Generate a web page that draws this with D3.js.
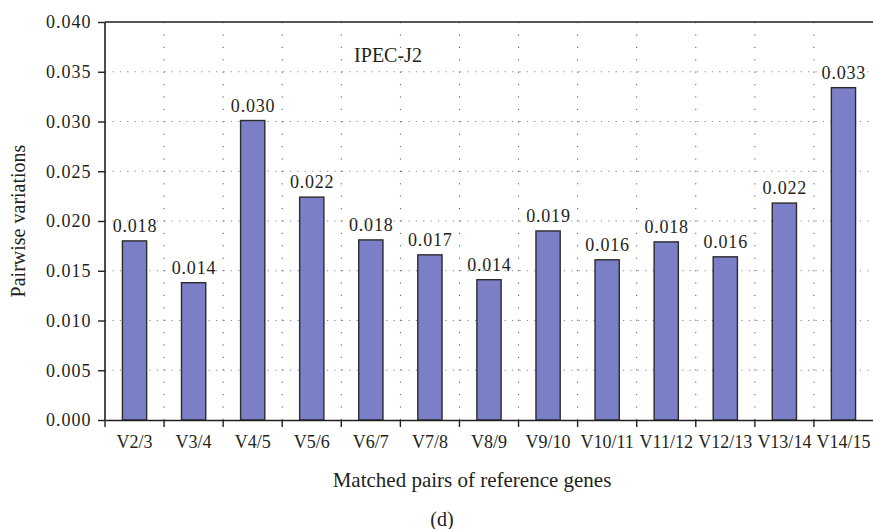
<!DOCTYPE html>
<html><head><meta charset="utf-8">
<script src="https://cdn.jsdelivr.net/npm/d3@7"></script>
<style>body{margin:0;background:#fff}svg{display:block}</style>
</head><body><svg id="c" width="873" height="529" font-family="Liberation Serif"></svg>
<script>
const categories = ["V2/3","V3/4","V4/5","V5/6","V6/7","V7/8","V8/9","V9/10","V10/11","V11/12","V12/13","V13/14","V14/15"];
const values = [0.0180,0.0138,0.0301,0.0224,0.0181,0.0166,0.0141,0.0190,0.0161,0.0179,0.0164,0.0218,0.0334];
const valueLabels = ["0.018","0.014","0.030","0.022","0.018","0.017","0.014","0.019","0.016","0.018","0.016","0.022","0.033"];
const yTicks = [0,0.005,0.010,0.015,0.020,0.025,0.030,0.035,0.040];

const FONT = "Liberation Serif";
const INK = "#231f20";
const svg = d3.select("#c");
const L=105, R=873, T=22, B=420;
const x = d3.scaleBand().domain(categories).range([L,R]).paddingInner(0.59).paddingOuter(0.295);
const xb = d3.scaleBand().domain(categories).range([L,R]);
const y = d3.scaleLinear().domain([0,0.04]).range([B,T]);

function txt(sel, size){ return sel.attr("font-family",FONT).attr("font-size",size).attr("fill",INK); }

// grid
const g = svg.append("g");
g.selectAll("line.h").data(yTicks.slice(1,-1)).join("line")
  .attr("x1",L).attr("x2",R).attr("y1",d=>y(d)).attr("y2",d=>y(d))
  .attr("stroke","#888").attr("stroke-width",1).attr("stroke-dasharray","1.2,6.2");
g.selectAll("line.v").data(categories.slice(1)).join("line")
  .attr("x1",d=>xb(d)).attr("x2",d=>xb(d)).attr("y1",T).attr("y2",B)
  .attr("stroke","#555").attr("stroke-width",1).attr("stroke-dasharray","1.2,11.2");

// bars
svg.selectAll("rect.bar").data(values).join("rect")
  .attr("x",(d,i)=>x(categories[i])).attr("width",x.bandwidth())
  .attr("y",d=>y(d)).attr("height",d=>B-y(d))
  .attr("fill","#7b7fc8").attr("stroke","#2b2b2b").attr("stroke-width",1.4);

txt(svg.selectAll("text.val").data(values).join("text")
  .attr("x",(d,i)=>x(categories[i])+x.bandwidth()/2+0.4).attr("y",d=>y(d)-9)
  .attr("text-anchor","middle").attr("letter-spacing",0.8),18).text((d,i)=>valueLabels[i]);

// axes
const ya = svg.append("g").attr("transform",`translate(${L},0)`)
  .call(d3.axisLeft(y).tickValues(yTicks).tickFormat(d3.format(".3f")).tickSize(7).tickPadding(8));
ya.attr("font-family",FONT);
const xa = svg.append("g").attr("transform",`translate(0,${B})`)
  .call(d3.axisBottom(xb).tickValues([]).tickSize(0));
xa.attr("font-family",FONT);
xa.selectAll(".tk").data(d3.range(0,categories.length)).join("line")
  .attr("x1",i=>xb(categories[i])).attr("x2",i=>xb(categories[i])).attr("y1",0).attr("y2",7)
  .attr("stroke",INK).attr("stroke-width",1.4);
txt(xa.selectAll("text.lab").data(categories).join("text")
  .attr("x",d=>xb(d)+xb.bandwidth()/2).attr("y",28).attr("text-anchor","middle"),18).text(d=>d);
[ya,xa].forEach(a=>{a.selectAll(".domain").attr("stroke",INK).attr("stroke-width",1.6);
  a.selectAll(".tick line").attr("stroke",INK).attr("stroke-width",1.4);
  txt(a.selectAll(".tick text"),18);});
ya.selectAll(".tick text").attr("letter-spacing",1).attr("dx",1.5);
ya.select(".domain").attr("d",`M0,${T}V${B}`);
svg.append("line").attr("x1",L).attr("x2",R).attr("y1",T).attr("y2",T).attr("stroke",INK).attr("stroke-width",1.6);

// titles
txt(svg.append("text").attr("x",388).attr("y",62).attr("text-anchor","middle"),20).text("IPEC-J2");
txt(svg.append("text").attr("transform","translate(25,221) rotate(-90)").attr("text-anchor","middle"),20).text("Pairwise variations");
txt(svg.append("text").attr("x",472).attr("y",487).attr("text-anchor","middle"),21).text("Matched pairs of reference genes");
txt(svg.append("text").attr("x",442).attr("y",526).attr("text-anchor","middle"),20).text("(d)");
</script></body></html>
